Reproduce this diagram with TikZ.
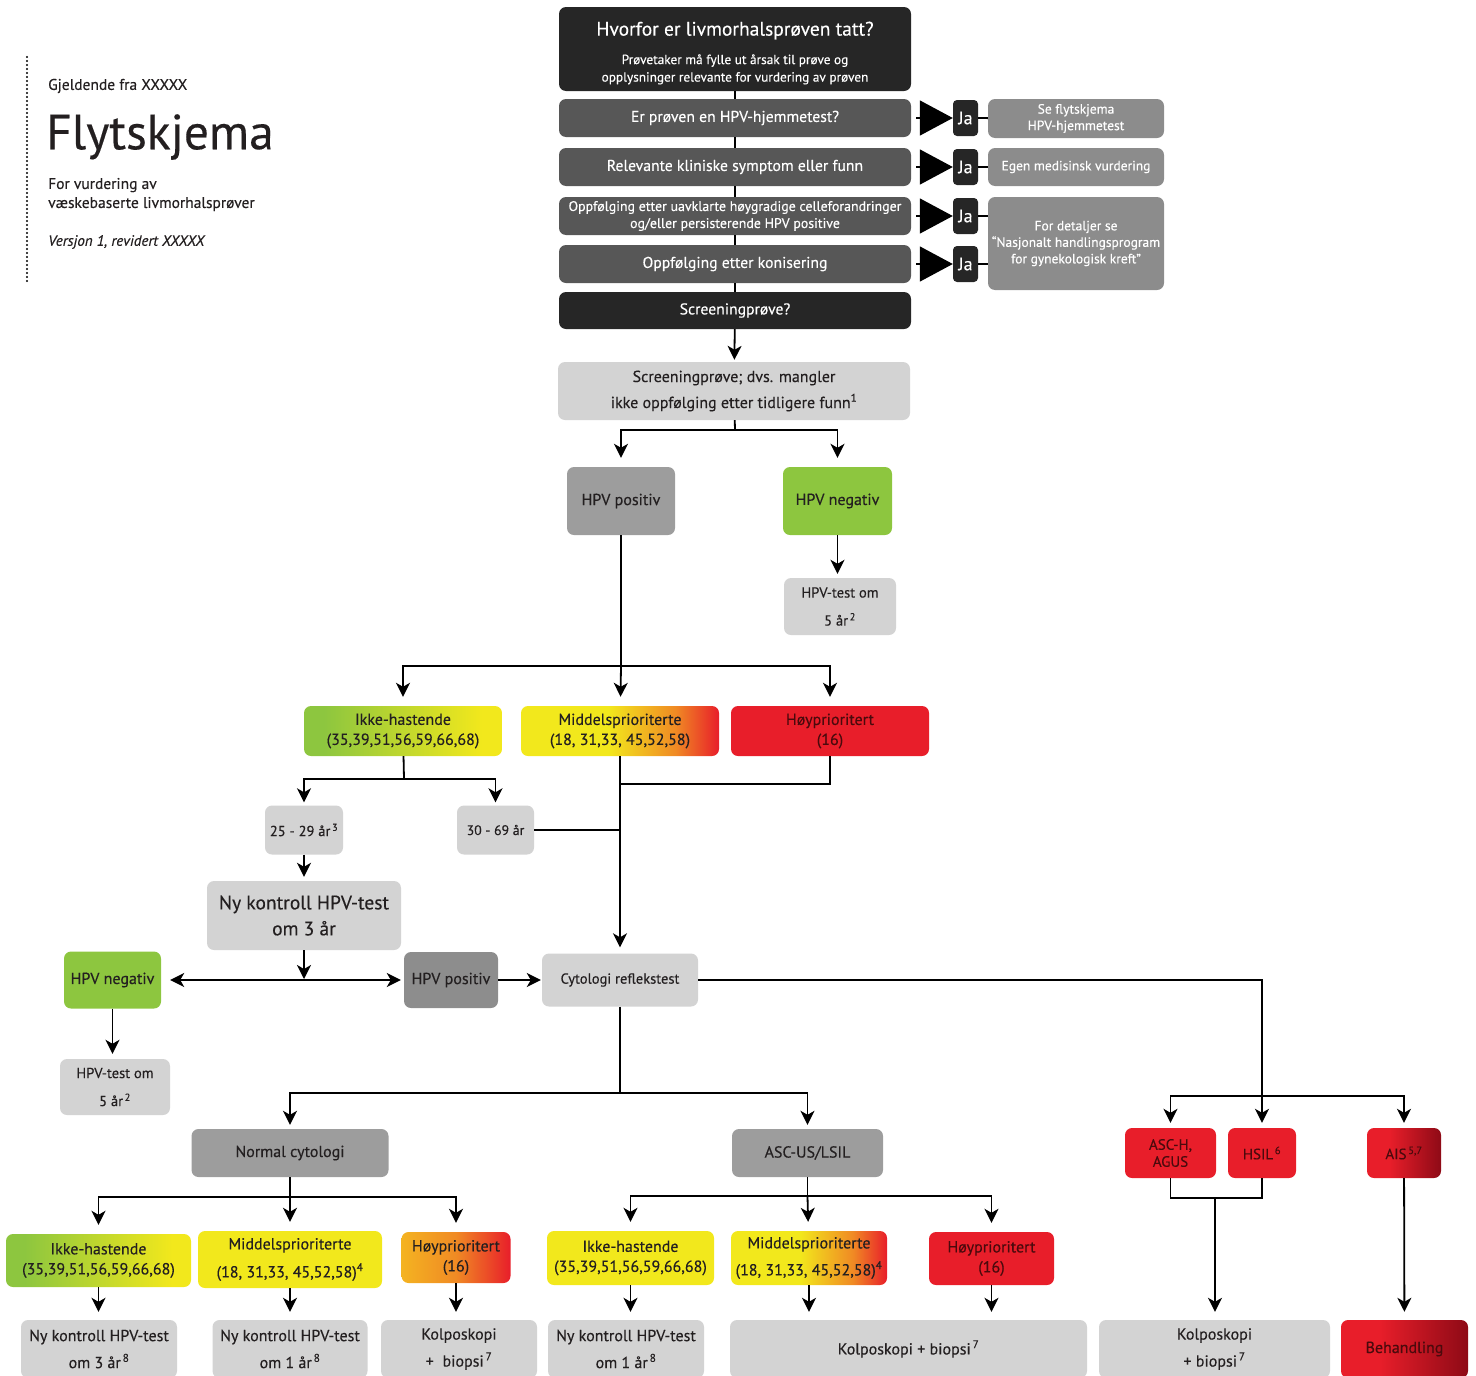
\documentclass[tikz,border=0pt]{standalone}
\usepackage{fontspec}
\setmainfont{PT Sans}[FakeBold=0.3]
\usetikzlibrary{positioning, arrows.meta}
\definecolor{darkbox}{HTML}{262626}
\definecolor{rowgray}{HTML}{575757}
\definecolor{sidegray}{HTML}{8C8C8C}
\definecolor{lightgray}{HTML}{D3D3D3}
\definecolor{midgray}{HTML}{9D9D9D}
\definecolor{hpvgreen}{HTML}{8DC63F}
\definecolor{hpvyellow}{HTML}{F2E81C}
\definecolor{hpvamber}{HTML}{F4B321}
\definecolor{hpvorange}{HTML}{F08A24}
\definecolor{hpvred}{HTML}{E81E2A}
\definecolor{darkred}{HTML}{8E0A16}
\definecolor{ink}{HTML}{231F20}
\definecolor{redink}{HTML}{4A0A0D}
\pgfdeclarehorizontalshading{greenyellow}{100bp}{color(0bp)=(hpvgreen); color(30bp)=(hpvgreen); color(70bp)=(hpvyellow); color(100bp)=(hpvyellow)}
\pgfdeclarehorizontalshading{yellowred}{100bp}{color(0bp)=(hpvyellow); color(47bp)=(hpvyellow); color(64bp)=(hpvorange); color(75bp)=(hpvred); color(100bp)=(hpvred)}
\pgfdeclarehorizontalshading{amberred}{100bp}{color(0bp)=(hpvamber); color(25bp)=(hpvamber); color(50bp)=(hpvorange); color(75bp)=(hpvred); color(100bp)=(hpvred)}
\pgfdeclarehorizontalshading{reddark}{100bp}{color(0bp)=(hpvred); color(40bp)=(hpvred); color(75bp)=(darkred); color(100bp)=(darkred)}
\tikzstyle{box}=[rectangle, rounded corners=7pt, align=center, inner sep=2pt, text=ink, font=\fontsize{16}{20}\selectfont]
\tikzstyle{darkq}=[box, fill=darkbox, text=white]
\tikzstyle{rowq}=[box, fill=rowgray, text=white, minimum width=352pt, minimum height=38pt]
\tikzstyle{sidenote}=[box, fill=sidegray, text=white, minimum width=176pt, font=\fontsize{13.5}{16.5}\selectfont]
\tikzstyle{ja}=[box, rounded corners=4pt, fill=darkbox, text=white, minimum width=25pt, minimum height=36pt, inner sep=0pt, font=\fontsize{18}{18}\selectfont]
\tikzstyle{light}=[box, fill=lightgray]
\tikzstyle{greybox}=[box, fill=midgray]
\tikzstyle{greenbox}=[box, fill=hpvgreen]
\tikzstyle{redbox}=[box, fill=hpvred, text=redink]
\tikzstyle{lowrisk}=[box, shade, shading=greenyellow]
\tikzstyle{midrisk}=[box, shade, shading=yellowred]
\tikzstyle{highrisk}=[box, shade, shading=amberred]
\tikzstyle{yellowbox}=[box, fill=hpvyellow]
\tikzstyle{treat}=[box, shade, shading=reddark, text=redink]
\tikzstyle{heading}=[anchor=west, inner sep=0pt, text=ink, align=left, font=\fontsize{15.5}{19}\selectfont]
\tikzstyle{link}=[line width=1.8pt]
\tikzstyle{flow}=[line width=1.8pt, -{Stealth[length=14pt,width=14pt,inset=4pt]}, shorten >=6pt]
\tikzstyle{jatri}=[line width=1.5pt, shorten <=5pt, -{Triangle[length=33pt,width=35pt]}]

\begin{document}
\begin{tikzpicture}[x=1pt, y=-1pt]
\useasboundingbox (0,0) rectangle (1476,1376);
% title block
\draw[line width=2.4pt, line cap=round, dash pattern=on 0pt off 4pt] (27,57) -- (27,283);
\node[heading] (valid) at (48,86) {Gjeldende fra XXXXX};
\node[heading, font=\fontsize{49.5}{52}\selectfont] (title) at (46,137) {Flytskjema};
\node[heading] (subtitle) at (48,194.5) {For vurdering av\\væskebaserte livmorhalsprøver};
\node[heading, font=\fontsize{15}{18}\selectfont\itshape] (version) at (48,242) {Versjon 1, revidert XXXXX};

% question column
\node[darkq, minimum width=352pt, minimum height=84pt, font=\fontsize{13.3}{17.5}\selectfont] (why) at (735,49)
  {\rule{0pt}{22pt}\fontsize{19.5}{22}\selectfont Hvorfor er livmorhalsprøven tatt?\\[11pt]
   Prøvetaker må fylle ut årsak til prøve og\\opplysninger relevante for vurdering av prøven};
\foreach \n/\y/\fs/\txt in {1/118/15.7/{Er prøven en HPV-hjemmetest?},
    2/167/15.7/{Relevante kliniske symptom eller funn},
    3/216/13.9/{Oppfølging etter uavklarte høygradige celleforandringer\\og/eller persisterende HPV positive},
    4/264/15.7/{Oppfølging etter konisering}}{
  \node[rowq, font=\fontsize{\fs}{17}\selectfont] (q\n) at (735,\y) {\txt};
  \node[ja] (ja\n) at (965.5,\y) {Ja};
  \draw[jatri] (q\n) -- (ja\n);
}
\node[darkq, minimum width=352pt, minimum height=37pt, font=\fontsize{15.7}{17}\selectfont] (scr) at (735,310.5) {Screeningprøve?};
\foreach \a/\b in {why/q1,q1/q2,q2/q3,q3/q4,q4/scr}
  \draw[link, line width=2.5pt] (\a) -- (\b);

% side notes
\node[sidenote, minimum height=39pt] (s1) at (1076,118.5) {Se flytskjema\\HPV-hjemmetest};
\node[sidenote, minimum height=38pt] (s2) at (1076,167) {Egen medisinsk vurdering};
\node[sidenote, minimum height=93pt] (s3) at (1076,243.5) {For detaljer se\\“Nasjonalt handlingsprogram\\for gynekologisk kreft”};
\draw[link] (ja1) -- (s1);
\draw[link] (ja2) -- (s2);
\draw[link] (ja3.east) -- (ja3.east -| s3.west);
\draw[link] (ja4.east) -- (ja4.east -| s3.west);

% screening
\node[light, minimum width=352pt, minimum height=58pt, font=\fontsize{16}{26}\selectfont] (scrn) at (734,391)
  {Screeningprøve; dvs. mangler\\ikke oppfølging etter tidligere funn\textsuperscript{1}};
\draw[flow, shorten >=2pt] (scr) -- (scrn);
\coordinate (split1) at (735,430);
\node[greybox, minimum width=108pt, minimum height=68pt] (hpvpos) at (621,501) {HPV positiv};
\node[greenbox, minimum width=109pt, minimum height=68pt] (hpvneg) at (837.5,501) {HPV negativ};
\node[light, minimum width=112pt, minimum height=57pt, font=\fontsize{14.5}{28}\selectfont] (hpvtest1) at (840,606.5) {HPV-test om\\5 år\textsuperscript{\,2}};
\draw[link] (scrn) -- (split1);
\draw[flow, shorten >=9pt] (split1) -| (hpvpos);
\draw[flow, shorten >=9pt] (split1) -| (hpvneg);
\draw[flow, shorten >=4pt] (hpvneg) -- (hpvneg |- hpvtest1.north);

% genotype after HPV positive
\coordinate (split2) at (621,666);
\node[lowrisk, minimum width=198pt, minimum height=50pt] (ikke1) at (403,731) {Ikke-hastende\\(35,39,51,56,59,66,68)};
\node[midrisk, minimum width=198pt, minimum height=50pt] (mid1) at (620,731) {Middelsprioriterte\\(18, 31,33, 45,52,58)};
\node[redbox, minimum width=198pt, minimum height=50pt] (hoy1) at (830,731) {Høyprioritert\\(16)};
\draw[link] (hpvpos) -- (split2);
\draw[flow, shorten >=9pt] (split2) -| (ikke1);
\draw[flow, shorten >=9pt] (split2) -- (mid1);
\draw[flow, shorten >=9pt] (split2) -| (hoy1);

% age groups
\coordinate (split3) at (404,779);
\node[light, minimum width=78pt, minimum height=49pt, font=\fontsize{14.5}{18}\selectfont] (age1) at (304,830) {25 - 29 år\textsuperscript{\,3}};
\node[light, minimum width=77pt, minimum height=49pt, font=\fontsize{13.8}{18}\selectfont] (age2) at (495.5,830) {30 - 69 år};
\draw[link] (ikke1) -- (split3);
\draw[flow, shorten >=3pt] (split3) -| (age1);
\draw[flow, shorten >=3pt] (split3) -| (age2);
\coordinate (join1) at (620,784);
\draw[link] (hoy1) |- (join1);
\draw[link] (age2.east) -- (age2.east -| mid1.south);

% new control
\node[light, minimum width=194pt, minimum height=69pt, font=\fontsize{19.5}{26}\selectfont] (nyk3) at (304,915.5) {Ny kontroll HPV-test\\om 3 år};
\draw[flow, shorten >=4pt] (age1) -- (nyk3);
\node[greenbox, minimum width=97pt, minimum height=57pt] (hpvneg2) at (112.5,980) {HPV negativ};
\node[greybox, fill=midgray!90!black, minimum width=94pt, minimum height=56pt] (hpvpos2) at (451,980) {HPV positiv};
\node[light, minimum width=156pt, minimum height=53pt, font=\fontsize{14.5}{18}\selectfont] (cyto) at (620,980) {Cytologi reflekstest};
\draw[flow, {Stealth[length=14pt,width=14pt,inset=4pt]}-{Stealth[length=14pt,width=14pt,inset=4pt]}, shorten <=9pt, shorten >=3pt] (hpvneg2) -- (hpvpos2);
\draw[flow, shorten >=1pt] (nyk3) -- (nyk3.south |- hpvneg2.east);
\draw[flow, shorten >=1pt] (hpvpos2) -- (cyto);
\draw[flow, shorten >=6pt] (mid1) -- (cyto);
\node[light, minimum width=110pt, minimum height=56pt, font=\fontsize{14.5}{28}\selectfont] (hpvtest2) at (115,1087) {HPV-test om\\5 år\textsuperscript{\,2}};
\draw[flow, shorten >=5pt] (hpvneg2) -- (hpvneg2 |- hpvtest2.north);

% cytology results
\coordinate (split4) at (620,1093);
\node[greybox, minimum width=197pt, minimum height=48pt] (normc) at (290,1153) {Normal cytologi};
\node[greybox, minimum width=151pt, minimum height=48pt] (ascus) at (807.5,1153) {ASC-US/LSIL};
\draw[link] (cyto) -- (split4);
\draw[flow, shorten >=4pt] (split4) -| (normc);
\draw[flow, shorten >=4pt] (split4) -| (ascus);

% high grade results
\coordinate (splitR) at (1262,1096);
\node[redbox, minimum width=91pt, minimum height=50pt, font=\fontsize{15}{17}\selectfont] (asch) at (1170.5,1153) {ASC-H,\\AGUS};
\node[redbox, minimum width=68pt, minimum height=50pt, font=\fontsize{15}{17}\selectfont] (hsil) at (1262,1153) {HSIL\textsuperscript{\,6}};
\node[treat, minimum width=74pt, minimum height=50pt, font=\fontsize{15}{17}\selectfont] (ais) at (1404,1153) {AIS\textsuperscript{\,5,7}};
\draw[flow, shorten >=5pt] (cyto) -| (hsil);
\draw[flow, shorten >=5pt] (splitR) -| (asch);
\draw[flow, shorten >=5pt] (splitR) -| (ais);
\node[light, minimum width=231pt, minimum height=58pt, font=\fontsize{16}{27}\selectfont] (kolpo3) at (1214.5,1349) {Kolposkopi\\+ biopsi\textsuperscript{\,7}};
\node[treat, minimum width=127pt, minimum height=58pt] (behand) at (1404.5,1349) {Behandling};
\coordinate (joinR) at (1215,1198);
\draw[link] (asch) |- (joinR) -| (hsil);
\draw[flow, shorten >=8pt] (joinR) -- (joinR |- kolpo3.north);
\draw[flow, shorten >=8pt] (ais) -- (behand);

% normal cytology branch
\coordinate (split5) at (290,1197);
\node[lowrisk, minimum width=185pt, minimum height=53pt] (ikke2) at (98.5,1260.5) {Ikke-hastende\\(35,39,51,56,59,66,68)};
\node[yellowbox, minimum width=184pt, minimum height=57pt, font=\fontsize{16}{28}\selectfont] (mid2) at (290,1259.5) {Middelsprioriterte\\(18, 31,33, 45,52,58)\textsuperscript{4}};
\node[highrisk, minimum width=109pt, minimum height=51pt] (hoy2) at (456,1257.5) {Høyprioritert\\(16)};
\draw[link] (normc) -- (split5);
\draw[flow, shorten >=9pt] (split5) -| (ikke2);
\draw[flow, shorten >=9pt] (split5) -- (mid2);
\draw[flow, shorten >=9pt] (split5) -| (hoy2);
\node[light, minimum width=156pt, minimum height=58pt, font=\fontsize{16}{27}\selectfont] (nyk3b) at (99,1349) {Ny kontroll HPV-test\\om 3 år\textsuperscript{\,8}};
\node[light, minimum width=155pt, minimum height=58pt, font=\fontsize{16}{27}\selectfont] (nyk1) at (290,1349) {Ny kontroll HPV-test\\om 1 år\textsuperscript{\,8}};
\node[light, minimum width=156pt, minimum height=58pt, font=\fontsize{16}{27}\selectfont] (kolpo1) at (459,1349) {Kolposkopi\\+\; biopsi\textsuperscript{\,7}};
\draw[flow, shorten >=8pt] (ikke2) -- (ikke2 |- nyk3b.north);
\draw[flow, shorten >=8pt] (mid2) -- (nyk1);
\draw[flow, shorten >=8pt] (hoy2) -- (hoy2 |- kolpo1.north);

% ASC-US/LSIL branch
\coordinate (split6) at (807.5,1196);
\node[yellowbox, minimum width=167pt, minimum height=54pt] (ikke3) at (630.5,1258) {Ikke-hastende\\(35,39,51,56,59,66,68)};
\node[midrisk, minimum width=156pt, minimum height=54pt, font=\fontsize{16}{27}\selectfont] (mid3) at (809,1258) {Middelsprioriterte\\(18, 31,33, 45,52,58)\textsuperscript{4}};
\node[redbox, minimum width=125pt, minimum height=53pt] (hoy3) at (991.5,1258.5) {Høyprioritert\\(16)};
\draw[link] (ascus) -- (split6);
\draw[flow, shorten >=9pt] (split6) -| (ikke3);
\draw[flow, shorten >=9pt] (split6) -- (mid3);
\draw[flow, shorten >=9pt] (split6) -| (hoy3);
\node[light, minimum width=156pt, minimum height=58pt, font=\fontsize{16}{27}\selectfont] (nyk1b) at (626,1349) {Ny kontroll HPV-test\\om 1 år\textsuperscript{\,8}};
\node[light, minimum width=357pt, minimum height=58pt] (kolpo2) at (908.5,1349) {Kolposkopi + biopsi\textsuperscript{\,7}};
\draw[flow, shorten >=8pt] (ikke3) -- (ikke3 |- nyk1b.north);
\draw[flow, shorten >=8pt] (mid3) -- (mid3 |- kolpo2.north);
\draw[flow, shorten >=8pt] (hoy3) -- (hoy3 |- kolpo2.north);
\end{tikzpicture}
\end{document}
